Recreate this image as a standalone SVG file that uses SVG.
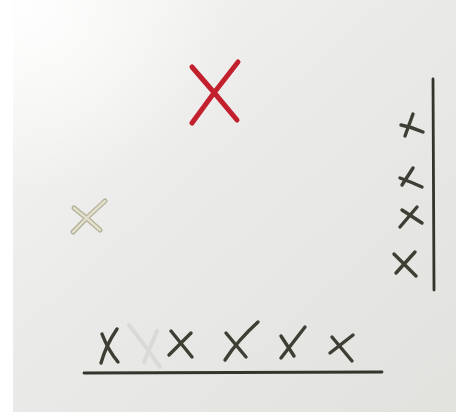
<svg xmlns="http://www.w3.org/2000/svg" width="456" height="412" viewBox="0 0 456 412">
  <defs>
    <linearGradient id="paper" x1="0" y1="0" x2="1" y2="1">
      <stop offset="0" stop-color="#f7f6f4"/>
      <stop offset="0.45" stop-color="#eaeae8"/>
      <stop offset="1" stop-color="#e1e1de"/>
    </linearGradient>
    <radialGradient id="glow" cx="0.05" cy="0.02" r="0.45">
      <stop offset="0" stop-color="#ffffff" stop-opacity="0.9"/>
      <stop offset="1" stop-color="#ffffff" stop-opacity="0"/>
    </radialGradient>
  </defs>
  <style>
    .ink { fill: none; stroke: #3e3e34; stroke-width: 3.4; stroke-linecap: round; stroke-linejoin: round; }
    .rule { fill: none; stroke: #34342c; stroke-width: 2.8; stroke-linecap: round; }
    .red { fill: none; stroke: #c2202d; stroke-width: 5; stroke-linecap: round; }
    .paleOut { fill: none; stroke: #b2b096; stroke-width: 5; stroke-linecap: round; }
    .paleIn { fill: none; stroke: #e2e0cc; stroke-width: 2.4; stroke-linecap: round; }
    .faded { fill: none; stroke: #d9d9d7; stroke-width: 4; stroke-linecap: round; }
  </style>
  <rect x="0" y="0" width="456" height="412" fill="url(#paper)"/>
  <rect x="0" y="0" width="456" height="412" fill="url(#glow)"/>
  <rect x="0" y="0" width="13" height="412" fill="#ffffff"/>

  <g id="red-x">
    <path class="red" d="M192,67 Q214,92 237,120"/>
    <path class="red" d="M238,62 Q214,92 192,123"/>
  </g>

  <g id="pale-x">
    <path class="paleOut" d="M74,208 Q87,218 100,230"/>
    <path class="paleOut" d="M105,201 Q88,216 73,232"/>
    <path class="paleIn" d="M74,208 Q87,218 100,230"/>
    <path class="paleIn" d="M105,201 Q88,216 73,232"/>
  </g>

  <g id="right-column">
    <path class="rule" d="M433,79 L434,290"/>
    <path class="ink" d="M413,114 L405,136"/>
    <path class="ink" d="M401,125 Q412,127 423,132"/>
    <path class="ink" d="M413,168 L402,185"/>
    <path class="ink" d="M400,178 Q411,182 422,187"/>
    <path class="ink" d="M417,207 L400,227"/>
    <path class="ink" d="M402,210 L422,223"/>
    <path class="ink" d="M415,252 L396,273"/>
    <path class="ink" d="M394,254 L416,276"/>
  </g>

  <g id="bottom-row">
    <path class="faded" d="M129,325 Q145,345 160,367"/>
    <path class="faded" d="M157,331 L144,362"/>
    <path class="rule" d="M84,373 L382,372"/>
    <path class="ink" d="M102,334 Q108,350 118,362"/>
    <path class="ink" d="M117,329 Q106,345 101,363"/>
    <path class="ink" d="M171,331 L192,357"/>
    <path class="ink" d="M191,333 L169,355"/>
    <path class="ink" d="M226,333 L246,357"/>
    <path class="ink" d="M258,322 Q238,340 225,360"/>
    <path class="ink" d="M281,336 L294,356"/>
    <path class="ink" d="M305,327 L281,358"/>
    <path class="ink" d="M332,337 L352,361"/>
    <path class="ink" d="M353,335 L330,353"/>
  </g>
</svg>
